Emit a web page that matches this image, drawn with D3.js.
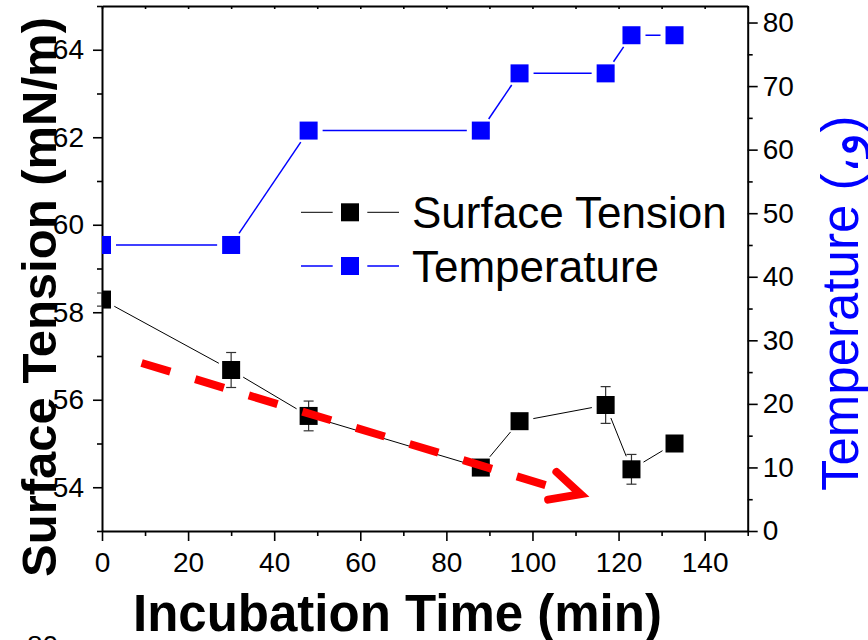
<!DOCTYPE html>
<html>
<head>
<meta charset="utf-8">
<script src="https://cdn.jsdelivr.net/npm/d3@7"></script>
<style>
  body { margin: 0; background: #fff; }
  svg { display: block; }
  text { font-family: "Liberation Sans", Arial, "DejaVu Sans", sans-serif; }
</style>
</head>
<body>
<svg id="chart" width="868" height="640"></svg>
<script>
// Incubation time (min)
const times = [0, 30, 48, 88, 97, 117, 123, 133];
// Surface tension (mN/m) and its standard deviation
const tension = [58.29, 56.68, 55.63, 54.45, 55.51, 55.88, 54.41, 55.0];
const tensionErr = [0.15, 0.40, 0.34, 0.15, 0.15, 0.42, 0.34, 0.15];
// Incubation temperature
const temperature = [45, 45, 63, 63, 72, 72, 78, 78];

const xTicks = [0, 20, 40, 60, 80, 100, 120, 140];
const xMinor = [10, 30, 50, 70, 90, 110, 130, 150];
const yLeftTicks = [54, 56, 58, 60, 62, 64];
const yLeftMinor = [53, 55, 57, 59, 61, 63, 65];
const yRightTicks = [0, 10, 20, 30, 40, 50, 60, 70, 80];
const yRightMinor = [5, 15, 25, 35, 45, 55, 65, 75];
const seriesNames = ["Surface Tension", "Temperature"];

// Downward trend arrow (time, tension)
const trendStart = [9.2, 56.84];
const trendShaftEnd = [103.7, 54.03];
const trendTip = [111.2, 53.84];

const W = 868, H = 640;
const plot = { left: 102, right: 747.7, top: 6, bottom: 531 };

const svg = d3.select("#chart");

const x = d3.scaleLinear([0, 150], [plot.left, plot.right]);
const yL = d3.scaleLinear([53, 65], [plot.bottom, plot.top]);
const yR = d3.scaleLinear([0, 82.6], [plot.bottom, plot.top]);

function styleAxis(g, fontSize) {
  g.select(".domain").attr("stroke", "#000").attr("stroke-width", 2);
  g.selectAll(".tick line").attr("stroke", "#000").attr("stroke-width", 1.6);
  g.selectAll(".tick text").attr("fill", "#000").attr("font-size", fontSize)
    .attr("font-family", '"Liberation Sans", Arial, sans-serif');
}
function minorAxis(axis, values, size, transform) {
  const g = svg.append("g").attr("transform", transform)
    .call(axis.tickValues(values).tickSize(size).tickFormat(""));
  g.select(".domain").remove();
  g.selectAll(".tick line").attr("stroke", "#000").attr("stroke-width", 1.6);
}

// bottom axis
minorAxis(d3.axisBottom(x), xMinor, 5, `translate(0,${plot.bottom})`);
svg.append("g").attr("transform", `translate(0,${plot.bottom})`)
  .call(d3.axisBottom(x).tickValues(xTicks).tickSize(10).tickPadding(11).tickSizeOuter(0))
  .call(g => styleAxis(g, 28));

// top frame with small inward ticks
svg.append("g").attr("transform", `translate(0,${plot.top})`)
  .call(d3.axisBottom(x).tickValues(d3.range(0, 151, 10)).tickSize(3).tickFormat("").tickSizeOuter(0))
  .call(g => styleAxis(g, 28));

// left axis (surface tension)
minorAxis(d3.axisLeft(yL), yLeftMinor, 5, `translate(${plot.left},0)`);
svg.append("g").attr("transform", `translate(${plot.left},0)`)
  .call(d3.axisLeft(yL).tickValues(yLeftTicks).tickSize(9).tickPadding(9).tickSizeOuter(0))
  .call(g => styleAxis(g, 28));

// right axis (temperature)
minorAxis(d3.axisRight(yR), yRightMinor, 5, `translate(${plot.right},0)`);
svg.append("g").attr("transform", `translate(${plot.right},0)`)
  .call(d3.axisRight(yR).tickValues(yRightTicks).tickSize(10).tickPadding(5).tickSizeOuter(0))
  .call(g => styleAxis(g, 28));

// clip for markers sitting on the frame
svg.append("clipPath").attr("id", "plotClip").append("rect")
  .attr("x", plot.left).attr("y", plot.top)
  .attr("width", plot.right - plot.left).attr("height", plot.bottom - plot.top);

const MARK = 18, GAP = 14;

// connecting segments stop short of each marker
function gappedSegments(pts, gap) {
  const segs = [];
  for (let i = 0; i < pts.length - 1; i++) {
    const [x1, y1] = pts[i], [x2, y2] = pts[i + 1];
    const dx = x2 - x1, dy = y2 - y1, L = Math.hypot(dx, dy);
    if (L <= 2 * gap) continue;
    const ux = dx / L, uy = dy / L;
    segs.push([x1 + ux * gap, y1 + uy * gap, x2 - ux * gap, y2 - uy * gap]);
  }
  return segs;
}

const tensionPts = times.map((t, i) => [x(t), yL(tension[i])]);
const tempPts = times.map((t, i) => [x(t), yR(temperature[i])]);

const series = [
  { pts: tempPts, color: "#0000ff", width: 1.5 },
  { pts: tensionPts, color: "#000", width: 1 }
];

series.forEach(s => {
  svg.append("g").selectAll("line").data(gappedSegments(s.pts, GAP)).join("line")
    .attr("x1", d => d[0]).attr("y1", d => d[1]).attr("x2", d => d[2]).attr("y2", d => d[3])
    .attr("stroke", s.color).attr("stroke-width", s.width);
});

// error bars on surface tension
const eb = svg.append("g").attr("stroke", "#333").attr("stroke-width", 1.2);
times.forEach((t, i) => {
  const cx = x(t), y1 = yL(tension[i] + tensionErr[i]), y2 = yL(tension[i] - tensionErr[i]);
  eb.append("line").attr("x1", cx).attr("x2", cx).attr("y1", y1).attr("y2", y2);
  eb.append("line").attr("x1", cx - 5).attr("x2", cx + 5).attr("y1", y1).attr("y2", y1);
  eb.append("line").attr("x1", cx - 5).attr("x2", cx + 5).attr("y1", y2).attr("y2", y2);
});

// square markers
series.forEach(s => {
  svg.append("g").attr("clip-path", "url(#plotClip)")
    .selectAll("rect").data(s.pts).join("rect")
    .attr("x", d => d[0] - MARK / 2).attr("y", d => d[1] - MARK / 2)
    .attr("width", MARK).attr("height", MARK).attr("fill", s.color);
});

// red dashed trend arrow
const red = "#ff0000";
const p0 = [x(trendStart[0]), yL(trendStart[1])];
const p1 = [x(trendShaftEnd[0]), yL(trendShaftEnd[1])];
const tip = [x(trendTip[0]), yL(trendTip[1])];
svg.append("line")
  .attr("x1", p0[0]).attr("y1", p0[1]).attr("x2", p1[0]).attr("y2", p1[1])
  .attr("stroke", red).attr("stroke-width", 8).attr("stroke-dasharray", "30,26");
const ang = Math.atan2(tip[1] - p0[1], tip[0] - p0[0]) + Math.PI;
const armLen = 33, spread = 26 * Math.PI / 180;
const armA = [tip[0] + armLen * Math.cos(ang + spread), tip[1] + armLen * Math.sin(ang + spread)];
const armB = [tip[0] + armLen * Math.cos(ang - spread), tip[1] + armLen * Math.sin(ang - spread)];
svg.append("path")
  .attr("d", d3.line()([armA, tip, armB]))
  .attr("fill", "none").attr("stroke", red).attr("stroke-width", 8)
  .attr("stroke-linejoin", "miter").attr("stroke-linecap", "round");

// legend
const legend = svg.append("g");
const legendRows = [
  { name: seriesNames[0], color: "#000", width: 1, y: 212.3 },
  { name: seriesNames[1], color: "#0000ff", width: 1.5, y: 266 }
];
legendRows.forEach(r => {
  legend.append("line").attr("x1", 301).attr("x2", 332.7).attr("y1", r.y).attr("y2", r.y)
    .attr("stroke", r.color).attr("stroke-width", r.width);
  legend.append("line").attr("x1", 367.3).attr("x2", 399).attr("y1", r.y).attr("y2", r.y)
    .attr("stroke", r.color).attr("stroke-width", r.width);
  legend.append("rect").attr("x", 350 - MARK / 2).attr("y", r.y - MARK / 2)
    .attr("width", MARK).attr("height", MARK).attr("fill", r.color);
  legend.append("text").attr("x", 412).attr("y", r.y + 15.8)
    .attr("font-size", 44).attr("fill", "#000").text(r.name);
});

// axis titles
svg.append("text").attr("x", 133).attr("y", 631)
  .attr("font-size", 51).attr("font-weight", "bold").attr("fill", "#000")
  .text("Incubation Time (min)");

svg.append("text").attr("transform", "translate(56,297) rotate(-90)")
  .attr("text-anchor", "middle").attr("font-size", 49).attr("font-weight", "bold")
  .attr("fill", "#000").text("Surface Tension (mN/m)");

svg.append("text").attr("transform", "translate(858,491) rotate(-90)")
  .attr("font-size", 51).attr("fill", "#0000ff")
  .style("direction", "ltr").style("unicode-bidi", "bidi-override")
  .text("Temperature (\u060C\u0648)");

// stray label fragment at the lower edge
svg.append("text").attr("x", 27).attr("y", 655).attr("font-size", 28).attr("fill", "#000").text("80");
</script>
</body>
</html>
